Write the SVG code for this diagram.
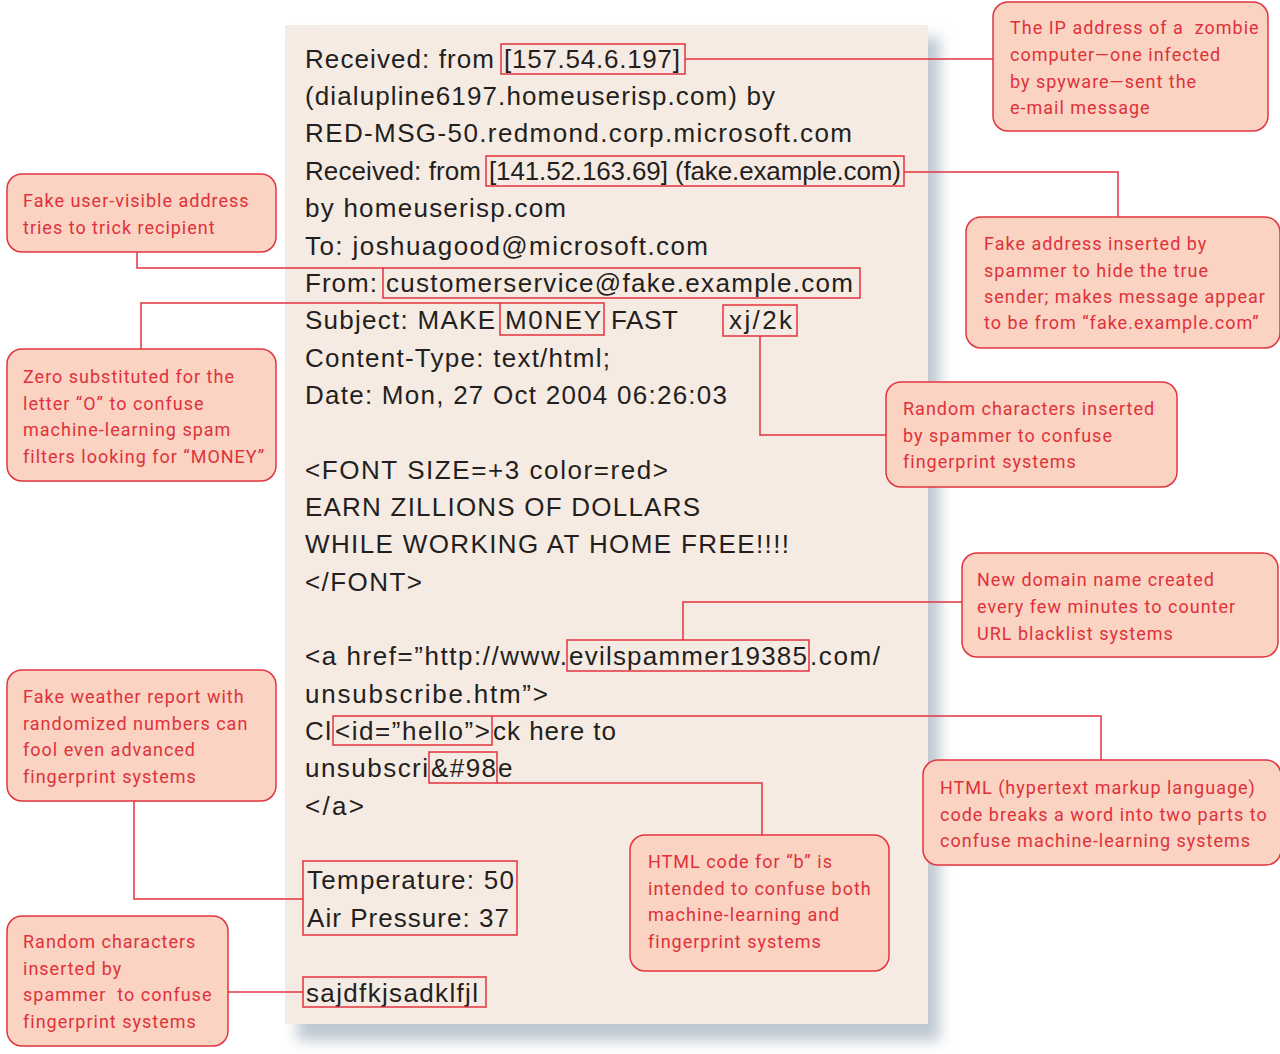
<svg xmlns="http://www.w3.org/2000/svg" width="1280" height="1054" viewBox="0 0 1280 1054">
<defs>
<filter id="blur" x="-5%" y="-5%" width="110%" height="110%"><feGaussianBlur stdDeviation="7"/></filter>
<style>
.mail{font-family:"Liberation Sans",Arial,sans-serif;font-size:26px;fill:#231f20}
.note{font-family:Roboto,"Liberation Sans",sans-serif;font-size:18px;fill:#e0313b;letter-spacing:1px}
.callout{fill:#fad3c2;stroke:#e2343f;stroke-width:1.5}
.hl{fill:none;stroke:#e2343f;stroke-width:1.5}
.conn{fill:none;stroke:#e2343f;stroke-width:1.5}
</style>
</defs>
<rect width="1280" height="1054" fill="#ffffff"/>
<g id="page">
<rect x="297" y="37" width="643" height="1004" fill="#bfc9d2" filter="url(#blur)"/>
<rect x="285" y="25" width="643" height="999" fill="#f6ebe3"/>
</g>
<g id="mail-text" class="mail">
<text x="305" y="68" textLength="189" lengthAdjust="spacing">Received: from</text>
<text x="504" y="68" textLength="176" lengthAdjust="spacing">[157.54.6.197]</text>
<text x="305" y="105" textLength="470" lengthAdjust="spacing">(dialupline6197.homeuserisp.com) by</text>
<text x="305" y="142" textLength="547" lengthAdjust="spacing">RED-MSG-50.redmond.corp.microsoft.com</text>
<text x="305" y="180" textLength="176" lengthAdjust="spacing">Received: from</text>
<text x="489" y="180" textLength="412" lengthAdjust="spacing">[141.52.163.69] (fake.example.com)</text>
<text x="305" y="217" textLength="261" lengthAdjust="spacing">by homeuserisp.com</text>
<text x="305" y="255" textLength="403" lengthAdjust="spacing">To: joshuagood@microsoft.com</text>
<text x="305" y="292" textLength="72" lengthAdjust="spacing">From:</text>
<text x="386" y="292" textLength="467" lengthAdjust="spacing">customerservice@fake.example.com</text>
<text x="305" y="329" textLength="190" lengthAdjust="spacing">Subject: MAKE</text>
<text x="505" y="329" textLength="96" lengthAdjust="spacing">M0NEY</text>
<text x="611" y="329" textLength="67" lengthAdjust="spacing">FAST</text>
<text x="729" y="329" textLength="63" lengthAdjust="spacing">xj/2k</text>
<text x="305" y="367" textLength="305" lengthAdjust="spacing">Content-Type: text/html;</text>
<text x="305" y="404" textLength="422" lengthAdjust="spacing">Date: Mon, 27 Oct 2004 06:26:03</text>
<text x="305" y="479" textLength="363" lengthAdjust="spacing">&lt;FONT SIZE=+3 color=red&gt;</text>
<text x="305" y="516" textLength="395" lengthAdjust="spacing">EARN ZILLIONS OF DOLLARS</text>
<text x="305" y="553" textLength="484" lengthAdjust="spacing">WHILE WORKING AT HOME FREE!!!!</text>
<text x="305" y="591" textLength="117" lengthAdjust="spacing">&lt;/FONT&gt;</text>
<text x="305" y="665" textLength="262" lengthAdjust="spacing">&lt;a href=”http://www.</text>
<text x="569" y="665" textLength="238" lengthAdjust="spacing">evilspammer19385</text>
<text x="810" y="665" textLength="70" lengthAdjust="spacing">.com/</text>
<text x="305" y="703" textLength="243" lengthAdjust="spacing">unsubscribe.htm”&gt;</text>
<text x="305" y="740" textLength="26" lengthAdjust="spacing">Cl</text>
<text x="335" y="740" textLength="155" lengthAdjust="spacing">&lt;id=”hello”&gt;</text>
<text x="493" y="740" textLength="123" lengthAdjust="spacing">ck here to</text>
<text x="305" y="777" textLength="123" lengthAdjust="spacing">unsubscri</text>
<text x="431" y="777" textLength="65" lengthAdjust="spacing">&amp;#98</text>
<text x="498" y="777">e</text>
<text x="305" y="815" textLength="59" lengthAdjust="spacing">&lt;/a&gt;</text>
<text x="307" y="889" textLength="207" lengthAdjust="spacing">Temperature: 50</text>
<text x="307" y="927" textLength="202" lengthAdjust="spacing">Air Pressure: 37</text>
<text x="306" y="1002" textLength="172" lengthAdjust="spacing">sajdfkjsadklfjl</text>
</g>
<g id="highlights">
<rect class="hl" x="501" y="44" width="184" height="30"/>
<rect class="hl" x="486" y="156" width="418" height="30"/>
<rect class="hl" x="383" y="268" width="477" height="30"/>
<rect class="hl" x="500" y="303" width="104" height="32"/>
<rect class="hl" x="723" y="305" width="74" height="31"/>
<rect class="hl" x="567" y="640" width="242" height="31"/>
<rect class="hl" x="333" y="716" width="159" height="29"/>
<rect class="hl" x="429" y="752" width="68" height="31"/>
<rect class="hl" x="303" y="861" width="214" height="74"/>
<rect class="hl" x="303" y="977" width="183" height="30"/>
</g>
<g id="connectors">
<polyline class="conn" points="685,59 993,59"/>
<polyline class="conn" points="904,172 1118,172 1118,217"/>
<polyline class="conn" points="137,252 137,268 383,268"/>
<polyline class="conn" points="141,349 141,303 500,303"/>
<polyline class="conn" points="760,336 760,435 886,435"/>
<polyline class="conn" points="683,640 683,602 962,602"/>
<polyline class="conn" points="492,716 1101,716 1101,760"/>
<polyline class="conn" points="497,783 762,783 762,835"/>
<polyline class="conn" points="134,801 134,899 303,899"/>
<polyline class="conn" points="228,992 303,992"/>
</g>
<g id="callout-zombie">
<rect class="callout" x="993" y="2" width="275" height="129" rx="15"/>
<text class="note" x="1010" y="34" xml:space="preserve">The IP address of a  zombie</text>
<text class="note" x="1010" y="61">computer—one infected</text>
<text class="note" x="1010" y="88">by spyware—sent the</text>
<text class="note" x="1010" y="114">e-mail message</text>
</g>
<g id="callout-fake-address">
<rect class="callout" x="966" y="217" width="314" height="131" rx="15"/>
<text class="note" x="984" y="250">Fake address inserted by</text>
<text class="note" x="984" y="277">spammer to hide the true</text>
<text class="note" x="984" y="303">sender; makes message appear</text>
<text class="note" x="984" y="329">to be from “fake.example.com”</text>
</g>
<g id="callout-user-visible">
<rect class="callout" x="7" y="174" width="269" height="78" rx="15"/>
<text class="note" x="23" y="207">Fake user-visible address</text>
<text class="note" x="23" y="234">tries to trick recipient</text>
</g>
<g id="callout-zero">
<rect class="callout" x="7" y="349" width="269" height="132" rx="15"/>
<text class="note" x="23" y="383">Zero substituted for the</text>
<text class="note" x="23" y="410">letter “O” to confuse</text>
<text class="note" x="23" y="436">machine-learning spam</text>
<text class="note" x="23" y="463">filters looking for “MONEY”</text>
</g>
<g id="callout-random1">
<rect class="callout" x="886" y="382" width="291" height="105" rx="15"/>
<text class="note" x="903" y="415">Random characters inserted</text>
<text class="note" x="903" y="442">by spammer to confuse</text>
<text class="note" x="903" y="468">fingerprint systems</text>
</g>
<g id="callout-domain">
<rect class="callout" x="962" y="553" width="316" height="104" rx="15"/>
<text class="note" x="977" y="586">New domain name created</text>
<text class="note" x="977" y="613">every few minutes to counter</text>
<text class="note" x="977" y="640">URL blacklist systems</text>
</g>
<g id="callout-weather">
<rect class="callout" x="7" y="670" width="269" height="131" rx="15"/>
<text class="note" x="23" y="703">Fake weather report with</text>
<text class="note" x="23" y="730">randomized numbers can</text>
<text class="note" x="23" y="756">fool even advanced</text>
<text class="note" x="23" y="783">fingerprint systems</text>
</g>
<g id="callout-html-split">
<rect class="callout" x="923" y="760" width="358" height="105" rx="15"/>
<text class="note" x="940" y="794">HTML (hypertext markup language)</text>
<text class="note" x="940" y="821">code breaks a word into two parts to</text>
<text class="note" x="940" y="847">confuse machine-learning systems</text>
</g>
<g id="callout-html-b">
<rect class="callout" x="630" y="835" width="259" height="136" rx="15"/>
<text class="note" x="648" y="868">HTML code for “b” is</text>
<text class="note" x="648" y="895">intended to confuse both</text>
<text class="note" x="648" y="921">machine-learning and</text>
<text class="note" x="648" y="948">fingerprint systems</text>
</g>
<g id="callout-random2">
<rect class="callout" x="7" y="916" width="221" height="130" rx="15"/>
<text class="note" x="23" y="948">Random characters</text>
<text class="note" x="23" y="975">inserted by</text>
<text class="note" x="23" y="1001" xml:space="preserve">spammer  to confuse</text>
<text class="note" x="23" y="1028">fingerprint systems</text>
</g>
</svg>
